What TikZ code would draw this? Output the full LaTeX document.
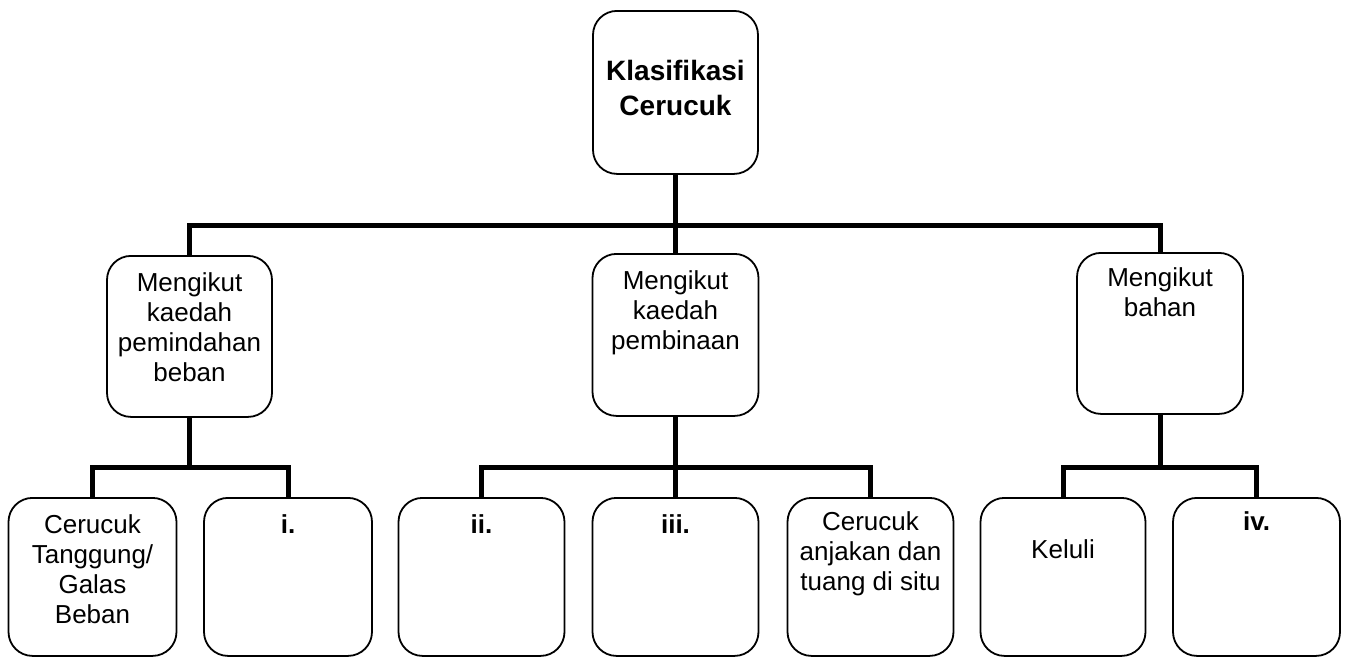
\documentclass[tikz,border=0pt]{standalone}
\usepackage{fontspec}
\setmainfont{Liberation Sans}
\newcommand\boxtxt[4]{\parbox[t][#2][t]{#1}{\centering\rule{0pt}{#3}#4}}
\begin{document}
\begin{tikzpicture}[x=1pt,y=-1pt,
  box/.style={draw, line width=1.8pt, rounded corners=24pt, inner sep=0pt, anchor=north,
              font=\fontsize{26pt}{30pt}\selectfont},
  conn/.style={line width=5pt}]
\useasboundingbox (0,0) rectangle (1349,657);
% level 1
\node[box] (top) at (675.5,10) {\boxtxt{165pt}{163pt}{70pt}{\bfseries\fontsize{28pt}{35pt}\selectfont Klasifikasi\\Cerucuk}};
% level 2
\node[box] (l2a) at (189.5,255) {\boxtxt{165pt}{161pt}{36pt}{Mengikut\\kaedah\\pemindahan\\beban}};
\node[box] (l2b) at (675.5,253) {\boxtxt{166pt}{162pt}{36pt}{Mengikut\\kaedah\\pembinaan}};
\node[box] (l2c) at (1160,252) {\boxtxt{166pt}{161pt}{34pt}{Mengikut\\bahan}};
% level 3
\node[box] (c1) at (92.5,497) {\boxtxt{168pt}{158pt}{36pt}{Cerucuk\\Tanggung/\\Galas\\Beban}};
\node[box] (c2) at (288,497) {\boxtxt{168pt}{158pt}{36pt}{\bfseries i.}};
\node[box] (c3) at (481.5,497) {\boxtxt{166pt}{158pt}{36pt}{\bfseries ii.}};
\node[box] (c4) at (675.5,497) {\boxtxt{166pt}{158pt}{36pt}{\bfseries iii.}};
\node[box] (c5) at (870.5,497) {\boxtxt{166pt}{158pt}{33pt}{Cerucuk\\anjakan dan\\tuang di situ}};
\node[box] (c6) at (1063,497) {\boxtxt{165pt}{158pt}{61pt}{Keluli}};
\node[box] (c7) at (1256.5,497) {\boxtxt{167pt}{158pt}{33pt}{\bfseries iv.}};
% buses
\coordinate (busA) at (0,225);
\coordinate (busB) at (0,467);
\draw[conn] (top.south) -- (top.south |- busA);
\draw[conn] (l2a.north) -- (l2a.north |- busA) -- (l2c.north |- busA) -- (l2c.north);
\draw[conn] (l2b.north) -- (l2b.north |- busA);
\draw[conn] (l2a.south) -- (l2a.south |- busB);
\draw[conn] (c1.north) -- (c1.north |- busB) -- (c2.north |- busB) -- (c2.north);
\draw[conn] (l2b.south) -- (c4.north);
\draw[conn] (c3.north) -- (c3.north |- busB) -- (c5.north |- busB) -- (c5.north);
\draw[conn] (l2c.south) -- (l2c.south |- busB);
\draw[conn] (c6.north) -- (c6.north |- busB) -- (c7.north |- busB) -- (c7.north);
\end{tikzpicture}
\end{document}
